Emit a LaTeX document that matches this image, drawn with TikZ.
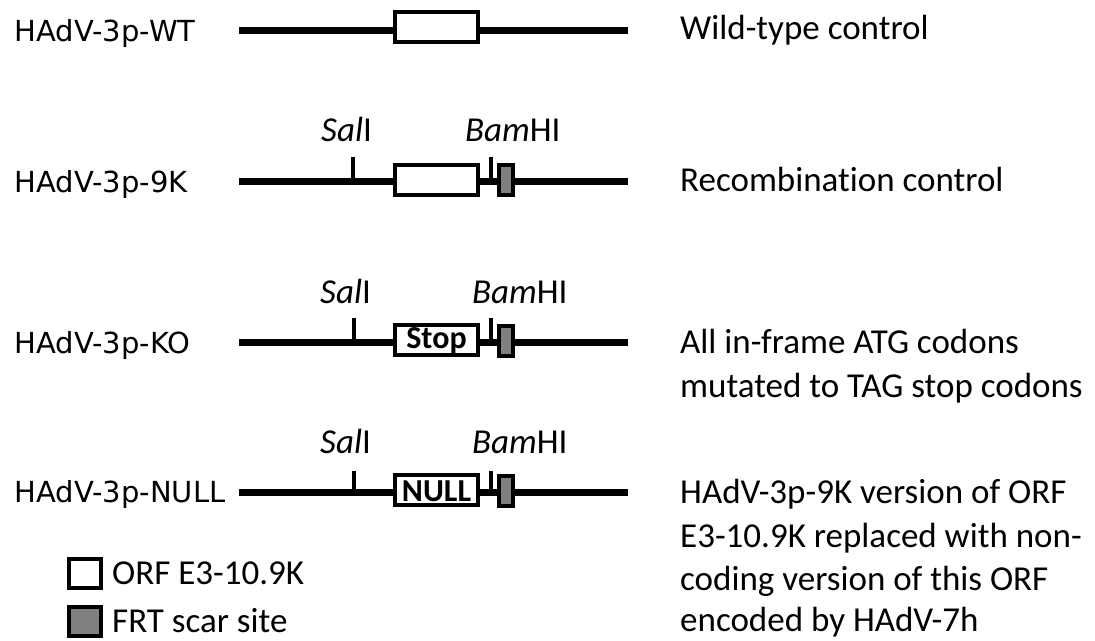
\documentclass[tikz,border=0pt]{standalone}
\usepackage{fontspec}
\setmainfont{Carlito}[Ligatures=NoCommon]
\newfontfamily\labfont{DejaVu Sans}
\definecolor{frtgray}{HTML}{808080}
\begin{document}
\begin{tikzpicture}[x=1pt,y=-1pt,
  dnaline/.style={line width=7pt},
  cuttick/.style={line width=4pt},
  orfbox/.style={draw,line width=4pt,fill=white,minimum width=83pt,minimum height=30pt,inner sep=0pt,outer sep=0pt},
  frtbox/.style={draw,line width=4pt,fill=frtgray,minimum width=14pt,minimum height=30pt,inner sep=0pt,outer sep=0pt},
  legbox/.style={draw,line width=4pt,minimum width=32pt,minimum height=29pt,inner sep=0pt},
  rowlabel/.style={anchor=base west,inner sep=0pt,font=\labfont\fontsize{29}{34}\selectfont},
  desc/.style={anchor=base west,inner sep=0pt,font=\fontsize{35}{42}\selectfont},
  enz/.style={anchor=base west,inner sep=0pt,font=\fontsize{35}{40}\selectfont},
  boxtext/.style={inner sep=0pt,font=\bfseries\fontsize{32}{36}\selectfont}]
\useasboundingbox (0,0) rectangle (1095,640);

% ---- Row 1: WT
\coordinate (a1) at (239,30);
\coordinate (b1) at (628,30);
\draw[dnaline] (a1) -- (b1);
\node[orfbox] (orf1) at (436.5,26.5) {};
\node[rowlabel] (lab1) at (14.5,41) {HAdV-3p-WT};
\node[desc] (d1) at (680,39) {Wild-type control};

% ---- Row 2: 9K
\coordinate (a2) at (239,181);
\coordinate (b2) at (628,181);
\draw[dnaline] (a2) -- (b2);
\coordinate (sal2) at (353,181);
\coordinate (bam2) at (491,181);
\draw[cuttick] (sal2) -- ++(0,-24);
\draw[cuttick] (bam2) -- ++(0,-24);
\node[orfbox] (orf2) at (436.5,179.5) {};
\node[frtbox] (frt2) at (506,180) {};
\node[enz] (s2) at (321,141.5) {\textit{Sal}I};
\node[enz] (h2) at (465,141.5) {\textit{Bam}HI};
\node[rowlabel] (lab2) at (14.5,192) {HAdV-3p-9K};
\node[desc] (d2) at (680,191.5) {Recombination control};

% ---- Row 3: KO
\coordinate (a3) at (239,342);
\coordinate (b3) at (628,342);
\draw[dnaline] (a3) -- (b3);
\coordinate (sal3) at (353.5,342);
\coordinate (bam3) at (491,342);
\draw[cuttick] (sal3) -- ++(0,-24);
\draw[cuttick] (bam3) -- ++(0,-24);
\node[orfbox] (orf3) at (436.5,340) {};
\node[boxtext] at (436.5,341) {Stop};
\node[frtbox] (frt3) at (506,340.5) {};
\node[enz] (s3) at (320,303) {\textit{Sal}I};
\node[enz] (h3) at (472,303) {\textit{Bam}HI};
\node[rowlabel] (lab3) at (14.5,353) {HAdV-3p-KO};
\node[desc] (d3a) at (680,353) {All in-frame ATG codons};
\node[desc] (d3b) at (680,397) {mutated to TAG stop codons};

% ---- Row 4: NULL
\coordinate (a4) at (239,492);
\coordinate (b4) at (628,492);
\draw[dnaline] (a4) -- (b4);
\coordinate (sal4) at (354,492);
\coordinate (bam4) at (491,492);
\draw[cuttick] (sal4) -- ++(0,-21);
\draw[cuttick] (bam4) -- ++(0,-21);
\node[orfbox] (orf4) at (436.5,490) {};
\node[boxtext] at (436.5,491) {NULL};
\node[frtbox] (frt4) at (506,490.5) {};
\node[enz] (s4) at (320,453) {\textit{Sal}I};
\node[enz] (h4) at (472,453) {\textit{Bam}HI};
\node[rowlabel] (lab4) at (14.5,502.5) {HAdV-3p-NULL};
\node[desc] (d4a) at (680,503) {HAdV-3p-9K version of ORF};
\node[desc] (d4b) at (680,547) {E3-10.9K replaced with non-};
\node[desc] (d4c) at (680,590) {coding version of this ORF};
\node[desc] (d4d) at (680,631) {encoded by HAdV-7h};

% ---- Legend
\node[legbox,fill=white] (leg1) at (85,573.5) {};
\node[legbox,fill=frtgray] (leg2) at (85,621.5) {};
\node[desc] (lt1) at (112,584) {ORF E3-10.9K};
\node[desc] (lt2) at (112,632) {FRT scar site};
\end{tikzpicture}
\end{document}
